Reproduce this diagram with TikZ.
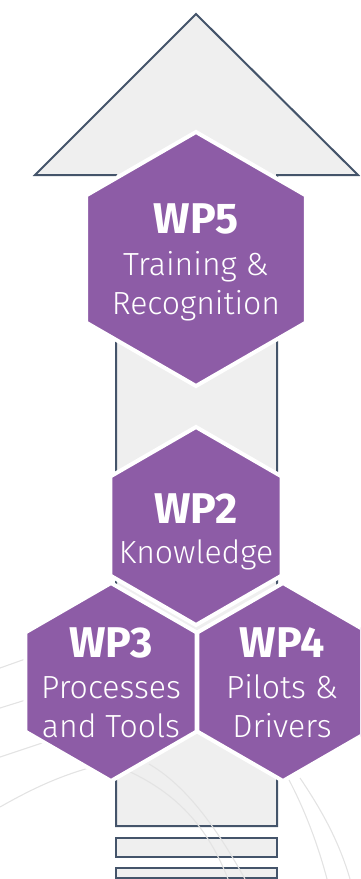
\documentclass[tikz,border=0pt]{standalone}
\usepackage{fontspec}
\setmainfont{Fira Sans}[UprightFont=* Light, BoldFont=* Bold]
\usetikzlibrary{shapes.geometric}
\definecolor{wppurple}{HTML}{8D5CA6}
\definecolor{arrowfill}{HTML}{EFEFEF}
\definecolor{arrowline}{HTML}{44546A}
\definecolor{swirl}{HTML}{E3E3E3}

\begin{document}
\begin{tikzpicture}[x=1pt,y=-1pt,
  hexcell/.style={regular polygon, regular polygon sides=6, shape border rotate=30,
    inner sep=0pt, outer sep=0pt, fill=wppurple, draw=white, line width=4pt},
  wptitle/.style={anchor=base, text=white, inner sep=0pt,
    font=\fontsize{43}{43}\selectfont\bfseries},
  wptext/.style={anchor=base, text=white, inner sep=0pt,
    font=\fontsize{32}{32}\selectfont},
  arrowpart/.style={fill=arrowfill, draw=arrowline, line width=2pt, line join=miter},
  swirlline/.style={draw=swirl, line width=1.1pt}]

\clip (0,0) rectangle (360,879);

% big upward arrow with its base bars
\draw[arrowpart] (116,826) -- (116,175) -- (35,175) -- (196,14) -- (358,175)
  -- (277,175) -- (277,826) -- cycle;
\draw[arrowpart] (116,838) rectangle (277,857);
\draw[arrowpart] (116,868) rectangle (277,878);

% faint background swirl lines
\draw[swirlline] (0,668) -- (45,652);
\draw[swirlline] (0,708) -- (45,694);
\draw[swirlline] (0,757) .. controls (15,752) .. (45,742);
\draw[swirlline] (0,807) .. controls (30,790) and (60,775) .. (100,765);
\draw[swirlline] (126,770) .. controls (170,790) and (205,820) .. (228,879);
\draw[swirlline] (149,764) .. controls (185,785) and (215,825) .. (245,879);
\draw[swirlline] (288,778) .. controls (305,810) and (318,845) .. (327,879);
\draw[swirlline] (300,778) .. controls (325,815) and (340,845) .. (350,879);

% work package cells
\node[hexcell, minimum size=254pt] (wp5) at (196,259) {};
\node[hexcell, minimum size=198pt] (wp2) at (196,526) {};
\node[hexcell, minimum size=198pt] (wp3) at (111,682) {};
\node[hexcell, minimum size=198pt] (wp4) at (283,682) {};

% labels
\node[wptitle] (wp5t) at (196,233) {WP5};
\node[wptext]  (wp5a) at (196,275) {Training \&};
\node[wptext]  (wp5b) at (196,314) {Recognition};

\node[wptitle] (wp2t) at (196,523) {WP2};
\node[wptext]  (wp2a) at (196,563) {Knowledge};

\node[wptitle] (wp3t) at (111,657) {WP3};
\node[wptext]  (wp3a) at (111,698) {Processes};
\node[wptext]  (wp3b) at (111,737) {and Tools};

\node[wptitle] (wp4t) at (282,657) {WP4};
\node[wptext]  (wp4a) at (282,698) {Pilots \&};
\node[wptext]  (wp4b) at (282,737) {Drivers};
\end{tikzpicture}
\end{document}
